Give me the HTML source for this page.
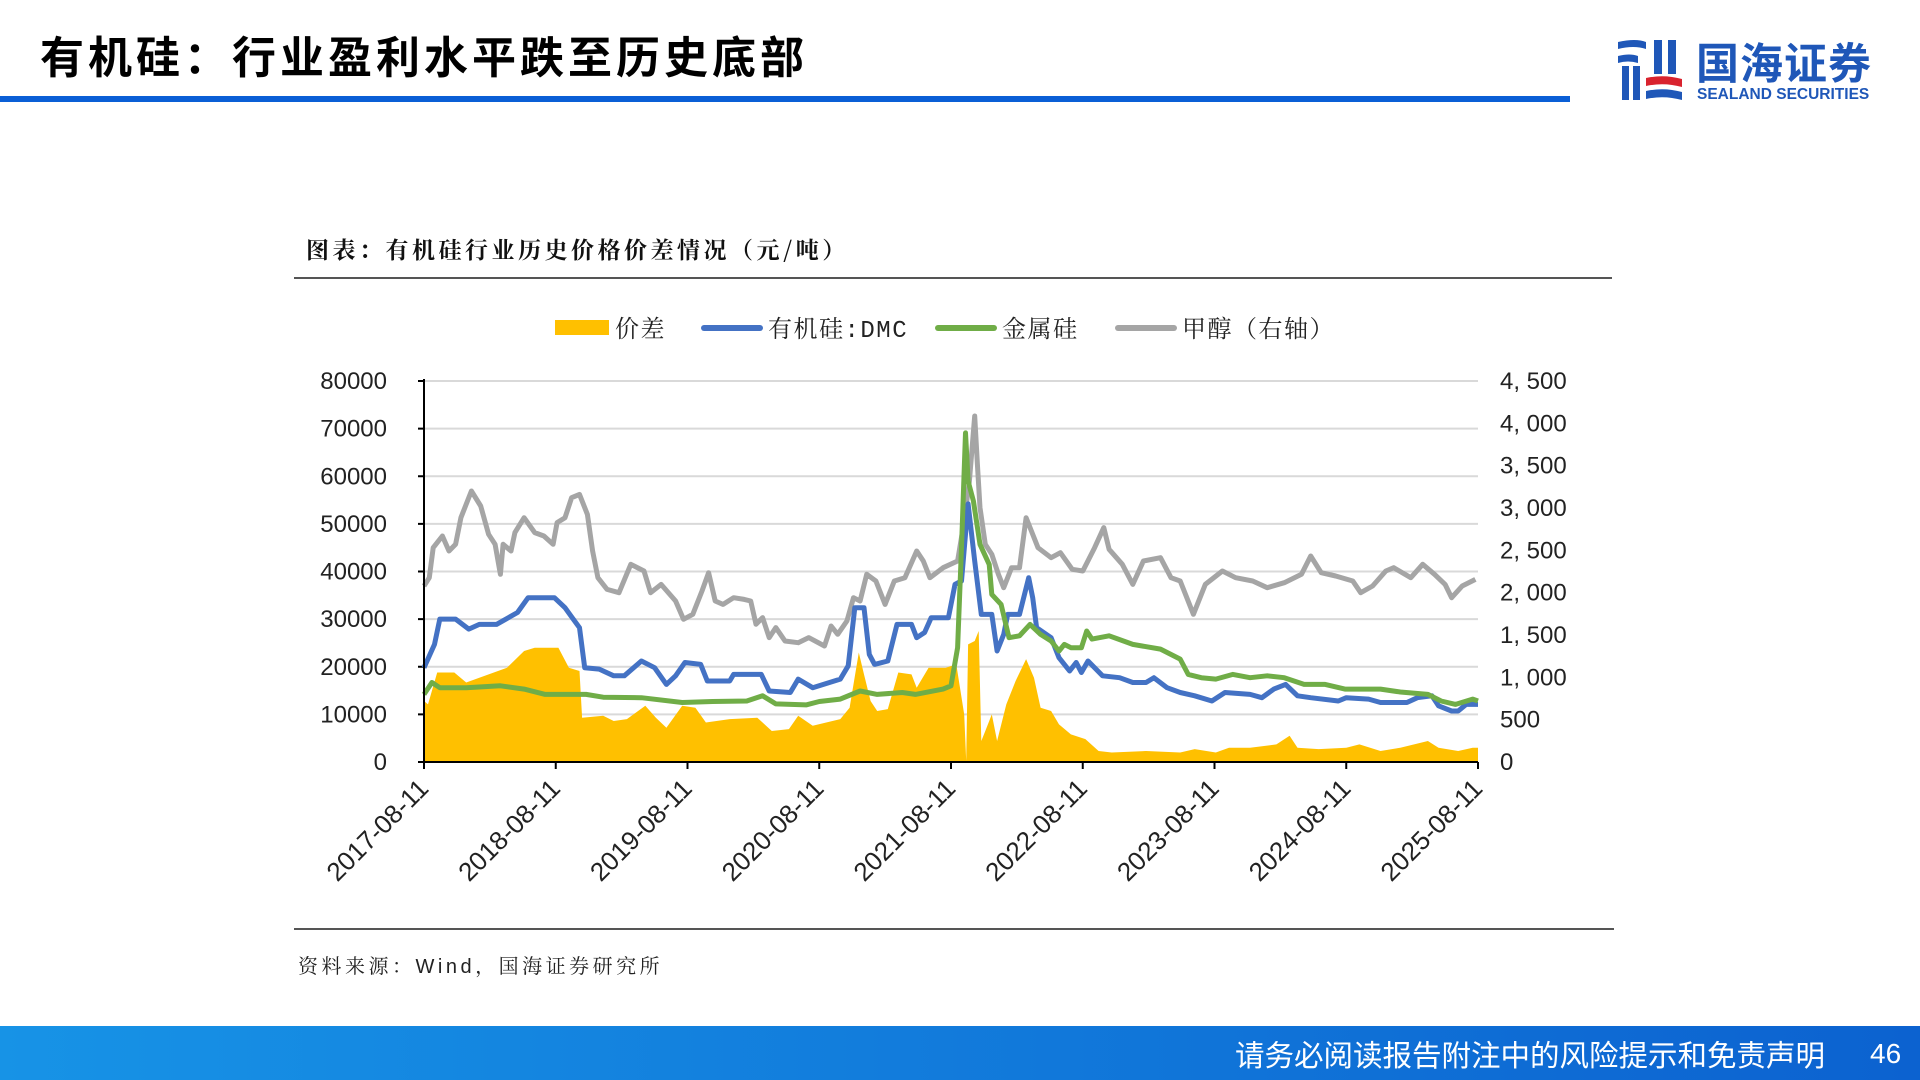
<!DOCTYPE html>
<html><head><meta charset="utf-8">
<style>
html,body{margin:0;padding:0;background:#fff;}
body{width:1920px;height:1080px;position:relative;overflow:hidden;font-family:"Liberation Sans","Noto Sans CJK SC",sans-serif;}
.abs{position:absolute;}
</style></head>
<body>
<div class="abs" style="left:40px;top:22px;font-size:44px;font-weight:bold;color:#000;font-family:'Liberation Sans','Noto Sans CJK SC',sans-serif;letter-spacing:4px;">有机硅：行业盈利水平跌至历史底部</div>
<div class="abs" style="left:0;top:96px;width:1570px;height:6px;background:#0a5fd6;"></div>

<div class="abs" style="left:1612px;top:34px;width:270px;height:72px;">
  <svg width="70" height="70" viewBox="0 0 70 70" style="position:absolute;left:4px;top:2px;">
    <path d="M2 6 Q20 2 30 6 L30 13 Q18 9 2 13Z" fill="#1f57b8"/>
    <path d="M2 20 Q14 17 22 20 L22 27 Q12 24 2 27Z" fill="#1f57b8"/>
    <path d="M6 30 L13 30 L13 64 L6 64Z" fill="#1f57b8"/>
    <path d="M17 30 L24 30 L24 64 L17 64Z" fill="#1f57b8"/>
    <path d="M38 4 L46 4 L46 38 L38 38Z" fill="#1f57b8"/>
    <path d="M52 4 L60 4 L60 38 L52 38Z" fill="#1f57b8"/>
    <path d="M30 42 Q48 38 66 43 L66 51 Q48 46 30 50Z" fill="#d9232e"/>
    <path d="M30 55 Q48 51 66 56 L66 64 Q48 59 30 63Z" fill="#1f57b8"/>
  </svg>
  <div class="abs" style="left:84px;top:2px;font-size:43px;font-weight:bold;color:#1f57b8;letter-spacing:1px;font-family:'Noto Sans CJK SC',sans-serif;line-height:50px;">国海证券</div>
  <div class="abs" style="left:85px;top:52px;font-size:15.5px;font-weight:bold;color:#1f57b8;letter-spacing:0px;line-height:18px;">SEALAND SECURITIES</div>
</div>

<div class="abs" style="left:306px;top:233px;font-size:23px;font-weight:bold;color:#111;font-family:'Noto Serif CJK SC',serif;line-height:32px;letter-spacing:3.5px;">图表：有机硅行业历史价格价差情况（元/吨）</div>
<div class="abs" style="left:294px;top:277px;width:1318px;height:2px;background:#555;"></div>
<div class="abs" style="left:294px;top:928px;width:1320px;height:2px;background:#555;"></div>
<div class="abs" style="left:298px;top:950px;font-size:20px;color:#222;letter-spacing:3.5px;font-family:'Liberation Sans','Noto Serif CJK SC',serif;">资料来源：Wind，国海证券研究所</div>

<svg id="chart" class="abs" style="left:0;top:0;" width="1920" height="1000"></svg>

<div class="abs" style="left:0;top:1026px;width:1920px;height:54px;background:linear-gradient(90deg,#1793e6,#0c62d0);"></div>
<div class="abs" style="right:95px;top:1035px;font-size:29.5px;color:#fff;font-family:'Noto Sans CJK SC',sans-serif;line-height:38px;">请务必阅读报告附注中的风险提示和免责声明</div>
<div class="abs" style="left:1870px;top:1036px;font-size:28px;color:#fff;line-height:36px;">46</div>

<script>
// ---- data (t = years since 2017-08-11) ----
const xTickLabels = ["2017-08-11","2018-08-11","2019-08-11","2020-08-11","2021-08-11","2022-08-11","2023-08-11","2024-08-11","2025-08-11"];
const leftTicks = [0,10000,20000,30000,40000,50000,60000,70000,80000];
const rightTicks = ["0","500","1, 000","1, 500","2, 000","2, 500","3, 000","3, 500","4, 000","4, 500"];
const legendNames = ["价差","有机硅:DMC","金属硅","甲醇（右轴）"];

const spreadT = [0,0.03,0.10,0.23,0.32,0.42,0.63,0.76,0.84,1.02,1.10,1.18,1.20,1.36,1.44,1.54,1.68,1.76,1.84,1.96,2.06,2.14,2.32,2.53,2.64,2.77,2.84,2.95,3.16,3.23,3.30,3.34,3.39,3.44,3.52,3.60,3.70,3.74,3.83,3.96,4.04,4.10,4.115,4.13,4.18,4.21,4.23,4.26,4.31,4.35,4.42,4.49,4.57,4.63,4.68,4.76,4.82,4.91,5.02,5.12,5.22,5.48,5.74,5.85,6.01,6.11,6.27,6.47,6.57,6.63,6.79,7.00,7.10,7.26,7.41,7.62,7.70,7.85,7.96,8.0];
const spreadV = [12800,12100,18800,18800,16700,17700,19800,23300,24000,24000,19800,19100,9300,9700,8600,9000,11800,9300,7200,11800,11400,8300,9000,9300,6500,6900,9700,7600,9000,11400,23000,18400,12800,10700,11100,18800,18400,15600,19800,19800,20500,10000,200,24700,25400,27500,4400,6500,10000,4400,12100,17000,21600,17700,11400,10700,7900,5800,4800,2300,2000,2300,2000,2700,2000,3000,3000,3700,5500,3000,2700,3000,3700,2300,3000,4400,3000,2300,3000,3000];

const dmcT = [0,0.08,0.12,0.24,0.34,0.42,0.55,0.71,0.79,0.99,1.07,1.125,1.18,1.22,1.33,1.44,1.52,1.65,1.75,1.84,1.91,1.98,2.10,2.15,2.32,2.35,2.56,2.62,2.78,2.84,2.95,3.16,3.22,3.27,3.34,3.38,3.42,3.52,3.59,3.70,3.74,3.80,3.85,3.98,4.03,4.08,4.13,4.18,4.23,4.31,4.35,4.40,4.43,4.52,4.59,4.62,4.65,4.76,4.82,4.90,4.95,4.99,5.04,5.15,5.28,5.38,5.48,5.54,5.64,5.74,5.85,5.98,6.08,6.27,6.36,6.45,6.54,6.63,6.73,6.94,7.00,7.17,7.26,7.46,7.54,7.65,7.70,7.80,7.85,7.91,8.0];
const dmcV = [19800,24700,30000,30000,27900,28900,28900,31400,34500,34500,32400,30300,28200,19800,19500,18100,18100,21200,19800,16300,18100,20900,20500,17000,17000,18400,18400,14900,14600,17400,15600,17400,20200,32400,32400,22600,20500,21200,28900,28900,26100,27200,30300,30300,37300,38000,54200,42200,31000,31000,23300,26800,31000,31000,38700,34500,28200,26100,21900,19100,20900,18800,21200,18100,17700,16700,16700,17700,15600,14600,13900,12800,14600,14200,13500,15300,16300,13900,13500,12800,13500,13200,12500,12500,13500,13900,11800,10700,10700,12100,12100];

const siT = [0,0.06,0.12,0.32,0.58,0.76,0.92,1.23,1.36,1.65,1.96,2.19,2.45,2.57,2.67,2.90,3.0,3.16,3.31,3.44,3.63,3.73,3.94,4.0,4.05,4.08,4.11,4.13,4.17,4.22,4.29,4.31,4.38,4.44,4.52,4.60,4.68,4.76,4.82,4.86,4.91,4.99,5.03,5.07,5.20,5.38,5.59,5.74,5.80,5.90,6.01,6.14,6.27,6.40,6.53,6.68,6.84,6.99,7.26,7.41,7.62,7.72,7.83,7.96,8.0];
const siV = [14200,16700,15600,15600,16000,15300,14200,14200,13600,13500,12500,12700,12800,13900,12200,12000,12700,13200,14900,14200,14600,14200,15300,16000,24000,45000,69100,59000,54800,45700,41500,35200,33100,26100,26500,28900,26800,25400,23300,24700,24000,24000,27500,25800,26500,24700,23700,21600,18400,17700,17400,18400,17700,18100,17700,16300,16300,15300,15300,14700,14200,12800,12100,13200,12800];

const meohT = [0,0.04,0.07,0.14,0.19,0.24,0.28,0.36,0.43,0.49,0.54,0.58,0.60,0.66,0.69,0.76,0.84,0.91,0.98,1.01,1.07,1.12,1.18,1.24,1.28,1.32,1.39,1.48,1.57,1.67,1.72,1.80,1.91,1.97,2.04,2.11,2.16,2.21,2.27,2.35,2.43,2.48,2.52,2.57,2.62,2.67,2.74,2.84,2.92,3.04,3.09,3.14,3.21,3.26,3.31,3.36,3.43,3.50,3.57,3.65,3.74,3.79,3.84,3.94,4.05,4.10,4.14,4.18,4.20,4.22,4.26,4.31,4.36,4.40,4.46,4.52,4.57,4.61,4.66,4.76,4.83,4.92,5.0,5.09,5.16,5.20,5.30,5.38,5.46,5.59,5.67,5.74,5.84,5.93,6.06,6.16,6.29,6.40,6.53,6.66,6.73,6.81,6.92,7.05,7.11,7.20,7.30,7.36,7.49,7.58,7.67,7.75,7.80,7.88,7.98];
const meohV = [2079,2177,2531,2669,2492,2571,2886,3201,3024,2689,2571,2217,2571,2492,2709,2886,2709,2669,2571,2827,2886,3122,3161,2925,2492,2177,2039,2000,2335,2256,2000,2098,1902,1685,1744,2020,2236,1902,1862,1941,1921,1902,1626,1705,1469,1587,1429,1409,1469,1370,1606,1508,1665,1941,1902,2217,2138,1862,2138,2177,2492,2374,2177,2295,2374,2846,3319,4087,3516,3004,2571,2453,2217,2059,2295,2295,2886,2728,2531,2413,2472,2276,2256,2531,2768,2512,2335,2098,2374,2413,2177,2138,1744,2098,2256,2177,2138,2059,2118,2217,2433,2236,2197,2138,2000,2079,2256,2295,2177,2335,2217,2098,1941,2079,2157];

// ---- layout ----
const NS = "http://www.w3.org/2000/svg";
const svg = document.getElementById('chart');
const L = 424, R = 1478, T = 381, B = 762;
const xScale = t => L + (R - L) * t / 8;
const yLeft = v => B - (B - T) * v / 80000;
const yRight = v => B - (B - T) * v / 4500;
function mk(tag, attrs) { const e = document.createElementNS(NS, tag); for (const k in attrs) e.setAttribute(k, attrs[k]); svg.appendChild(e); return e; }

leftTicks.forEach((v, i) => {
  if (v > 0) {
    const g = mk('line', {x1: L, x2: R, y1: yLeft(v), y2: yLeft(v), stroke: '#d9d9d9', 'stroke-width': 2});
    
    
  }
  const tx = mk('text', {x: 387, y: yLeft(v) + 8, 'text-anchor': 'end', 'font-size': 24, fill: '#222', 'font-family': 'Liberation Sans, sans-serif'});
  tx.textContent = v;
  
  
  const tk = mk('line', {x1: L - 6, x2: L, y1: yLeft(v), y2: yLeft(v), stroke: '#000', 'stroke-width': 2});
  
  
});
rightTicks.forEach((s, i) => {
  const tx = mk('text', {x: 1500, y: yRight(i * 500) + 8, 'font-size': 24, fill: '#222', 'font-family': 'Liberation Sans, sans-serif'});
  tx.textContent = s;
  
  
});

let d = 'M' + xScale(spreadT[0]) + ',' + B;
spreadT.forEach((t, i) => { d += ' L' + xScale(t).toFixed(1) + ',' + yLeft(spreadV[i]).toFixed(1); });
d += ' L' + xScale(spreadT[spreadT.length - 1]) + ',' + B + 'Z';
const area = mk('path', {d: d, fill: '#FFC000'});



function line(ts, vs, yf, color, name) {
  const pts = ts.map((t, i) => xScale(t).toFixed(1) + ',' + yf(vs[i]).toFixed(1)).join(' ');
  const p = mk('polyline', {points: pts, fill: 'none', stroke: color, 'stroke-width': 5, 'stroke-linejoin': 'round'});
  
  
}
line(meohT, meohV, yRight, '#A5A5A5', 'methanol-line');
line(dmcT, dmcV, yLeft, '#4472C4', 'dmc-line');
line(siT, siV, yLeft, '#70AD47', 'silicon-metal-line');

const ax1 = mk('line', {x1: L, x2: L, y1: T - 2, y2: B, stroke: '#000', 'stroke-width': 2});


const ax2 = mk('line', {x1: L, x2: R, y1: B, y2: B, stroke: '#000', 'stroke-width': 2});


xTickLabels.forEach((s, i) => {
  const x = xScale(i);
  const tk = mk('line', {x1: x, x2: x, y1: B, y2: B + 7, stroke: '#000', 'stroke-width': 2});
  
  
  const tx = mk('text', {x: x + 6, y: 790, 'text-anchor': 'end', 'font-size': 26, fill: '#222', 'font-family': 'Liberation Sans, sans-serif', transform: 'rotate(-45 ' + (x + 6) + ' 790)'});
  tx.textContent = s;
  
  
});

const legX = [555, 704, 938, 1118];
const legColors = ['#FFC000', '#4472C4', '#70AD47', '#A5A5A5'];
legendNames.forEach((n, i) => {
  let m;
  if (i === 0) m = mk('rect', {x: legX[i], y: 320, width: 54, height: 15, fill: legColors[i]});
  else m = mk('line', {x1: legX[i], x2: legX[i] + 56, y1: 328, y2: 328, stroke: legColors[i], 'stroke-width': 6, 'stroke-linecap': 'round'});
  
  
  const tx = mk('text', {x: legX[i] + (i === 0 ? 60 : 64), y: 337, 'font-size': 24, fill: '#222', 'letter-spacing': 1.5, 'font-family': 'Liberation Mono, Noto Serif CJK SC, serif'});
  tx.textContent = n;
  
  
});
</script>
</body></html>
